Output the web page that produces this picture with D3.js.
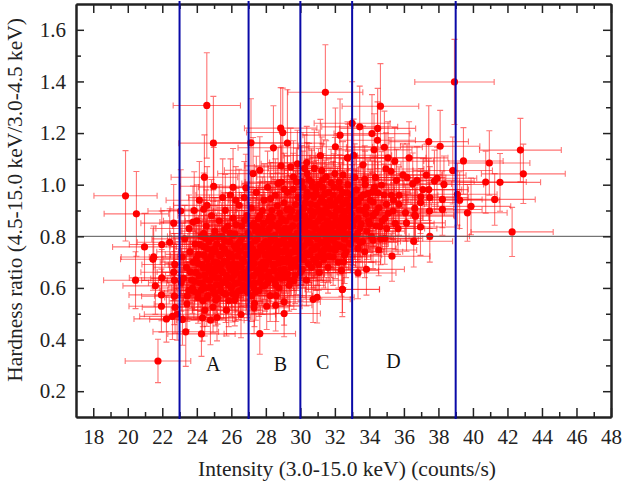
<!DOCTYPE html>
<html>
<head>
<meta charset="utf-8">
<script src="https://cdn.jsdelivr.net/npm/d3@7"></script>
<style>
body { margin: 0; background: #fff; }
svg { display: block; font-family: "Liberation Serif", serif; }
.tick text { font-family: "Liberation Serif", serif; font-size: 21px; fill: #222; }
.tick line, .domain { stroke: #222; }
.eb { stroke: #ff1010; stroke-opacity: 0.58; stroke-width: 1.1; fill: none; }
.pt { fill: #ff0000; }
</style>
</head>
<body>
<svg width="622" height="487"></svg>
<script>
// every row: intensity, hardness, intensity error, hardness error
var topPoints = [
[24.58,1.307,1.95,.204],[19.87,.957,1.83,.175],[20.5,.887,1.87,.164],[24.96,1.161,2.0,.181],[24.44,1.029,1.93,.164],
[24.98,.994,1.95,.15],[27.14,1.162,2.05,.171],[28.44,1.143,2.05,.163],[28.86,1.219,2.1,.157],[28.98,1.202,2.1,.172],
[29.25,1.161,2.1,.207],[31.45,1.358,2.17,.184],[32.3,1.192,2.15,.14],[32.03,1.147,2.15,.15],[31.16,1.113,2.15,.14],
[32.73,1.104,2.2,.14],[28.88,1.073,2.1,.14],[29.44,1.069,2.1,.15],[29.83,1.081,2.1,.13],[30.37,1.086,2.15,.14],
[30.25,1.063,2.1,.13],[30.81,1.063,2.15,.15],[31.24,1.055,2.15,.13],[27.26,1.043,2.05,.14],[27.65,1.056,2.05,.13],
[26.84,.988,2.0,.13],[28.71,1.005,2.1,.14],[25.95,.96,2.0,.14],[26.26,.94,2.0,.13],[24.4,.905,1.95,.14],
[23.07,.898,1.9,.16],[32,1.043,2.15,.14],[32.47,1.037,2.15,.13],[29.77,1.011,2.1,.13],[30.39,1.043,2.15,.12],[30.64,1.011,2.15,.13]
];
var rightPoints = [
[38.93,1.398,2.3,.165],[34.64,1.304,2.22,.165],[33,1.238,2.2,.161],[33.44,1.224,2.2,.158],[34.15,1.198,2.2,.151],
[34.48,1.218,2.2,.155],[34.47,1.172,2.2,.149],[34.87,1.145,2.2,.14],[34.27,1.135,2.2,.14],[37.44,1.167,2.3,.139],
[38.1,1.149,2.3,.139],[42.75,1.134,2.37,.123],[42.92,1.042,2.43,.115],[39.45,1.092,2.3,.129],[40.95,1.084,2.35,.125],
[40.74,1.01,2.35,.12],[41.57,1.009,2.35,.112],[41.26,.943,2.35,.1],[39.89,.916,2.3,.11],[39.68,.891,2.3,.11],
[38.83,1.055,2.3,.13],[39.1,.963,2.3,.12],[39.23,.94,2.3,.11],[38.32,1.001,2.3,.11],[37.92,1.025,2.3,.12],
[37.77,1.014,2.3,.12],[38.23,.943,2.3,.11],[38.23,.904,2.3,.1],[37.48,.898,2.3,.11],[37.5,.95,2.25,.12],
[36.98,.953,2.25,.11],[36.96,.931,2.25,.12],[37.44,.981,2.3,.12],[37.1,.981,2.25,.12],[37.3,1.037,2.3,.12],
[36.76,1.017,2.25,.13],[36.51,1.003,2.25,.12],[36.3,1.104,2.25,.14],[35.47,1.091,2.25,.13],[35.08,1.104,2.2,.14],
[34.96,1.061,2.2,.14],[35.25,1.052,2.2,.13],[35.95,1.038,2.25,.12],[36.18,1.028,2.25,.13],[35.57,1.017,2.2,.12],
[33.63,1.077,2.2,.15],[33.09,1.114,2.2,.14],[32.75,1.104,2.15,.13],[33.15,1.028,2.2,.13],[33.73,1.021,2.2,.13],
[34.35,1.028,2.2,.12],[34.7,.998,2.2,.13],[34.5,.968,2.2,.12],[33.92,.966,2.2,.13],[35.28,.959,2.2,.12],
[35.72,.959,2.25,.11],[35.72,.924,2.25,.12],[34.99,.924,2.2,.12],[34.21,.933,2.2,.11],[33.34,.933,2.2,.12],
[36.63,.908,2.25,.11],[36.63,.882,2.25,.1],[36.09,.891,2.25,.11],[35.37,.898,2.2,.11],[34.9,.87,2.2,.11],[33.8,.885,2.2,.12],
[42.27,.817,2.38,.095],[37.5,.8,2.3,.1],[36.57,.781,2.25,.1],[35.31,.723,2.2,.097],[34.54,.747,2.2,.1],
[33.83,.672,2.2,.1],[33.34,.658,2.2,.1],[32.43,.594,2.15,.105],[32.38,.668,2.15,.1],[32.5,.701,2.15,.1],
[32.56,.727,2.15,.11],[33.73,.74,2.2,.1],[33.34,.753,2.2,.11],[33.44,.776,2.2,.1],[34.21,.785,2.2,.11],
[34.89,.792,2.2,.1],[36.96,.836,2.25,.11],[36.15,.852,2.25,.11],[35.66,.83,2.25,.1],[36.67,.878,2.25,.11]
];
var lowPoints = [
[21.75,.317,1.9,.084],[27.65,.423,2.07,.08],[23.36,.43,1.9,.134],[24.27,.422,1.95,.087],[22.24,.48,1.88,.09],
[23.17,.478,1.9,.1],[24.79,.475,1.95,.095],[24.33,.484,1.95,.09],[25.17,.485,1.95,.09],[26.56,.497,2.0,.09],
[29.06,.501,2.1,.09],[22.59,.49,1.9,.09],[22.86,.498,1.9,.1],[21.95,.529,1.88,.1],[22.74,.525,1.9,.1],
[21.95,.573,1.88,.1],[22.7,.568,1.9,.11],[21.6,.608,1.88,.11],[20.45,.63,1.85,.11],[21.97,.639,1.88,.11],
[22.7,.63,1.9,.11],[23.23,.637,1.9,.1],[23.53,.591,1.92,.11],[23.43,.538,1.9,.1],[24.46,.514,1.95,.1],
[28.05,.529,2.05,.09],[28.57,.533,2.1,.1],[27.32,.523,2.05,.1],[27.34,.54,2.05,.09],[30.74,.556,2.15,.09],
[30.97,.564,2.15,.1],[32.44,.595,2.15,.09],[28.6,.57,2.1,.1],[29.06,.546,2.1,.09],[21.46,.711,1.88,.12],
[21.5,.72,1.88,.12],[20.97,.759,1.85,.13],[21.97,.768,1.88,.13],[22.43,.777,1.88,.13],[22.66,.851,1.9,.15],
[23.78,.855,1.92,.14],[24.4,.811,1.95,.13],[22.72,.691,1.9,.12],[22.66,.661,1.9,.11],[24.07,.563,1.93,.1],
[24.94,.526,1.95,.1],[25.72,.514,1.98,.1],[25.1,.553,1.95,.1],[26.2,.553,2.0,.1]
];
var coreA = [
[23.1,.62,1.9,.11],[23.15,.72,1.9,.13],[23.3,.79,1.9,.13],[23.4,.68,1.9,.12],[23.45,.57,1.9,.1],[23.6,.74,1.92,.12],[23.55,.83,1.92,.13],
[23.7,.63,1.92,.11],[23.75,.6,1.92,.1],[23.8,.7,1.92,.12],[23.9,.77,1.93,.13],[23.95,.66,1.93,.11],[24.0,.86,1.93,.14],[24.05,.58,1.93,.1],
[24.1,.73,1.93,.12],[24.2,.62,1.95,.11],[24.25,.8,1.95,.13],[24.3,.69,1.95,.12],[24.35,.55,1.95,.1],[24.4,.76,1.95,.12],[24.45,.65,1.95,.11],
[24.5,.6,1.95,.1],[24.55,.84,1.95,.14],[24.6,.71,1.95,.12],[24.65,.57,1.95,.1],[24.7,.78,1.95,.13],[24.75,.63,1.95,.11],[24.8,.67,1.95,.12],
[24.85,.88,1.95,.14],[24.9,.74,1.95,.12],[24.95,.59,1.95,.1],[25.0,.7,1.97,.12],[25.05,.82,1.97,.13],[25.1,.64,1.97,.11],[25.15,.77,1.97,.12],
[25.2,.56,1.97,.1],[25.25,.68,1.97,.12],[25.3,.86,1.97,.14],[25.35,.61,1.97,.11],[25.4,.73,1.97,.12],[25.45,.8,1.97,.13],[25.5,.66,1.97,.11],
[25.55,.58,1.97,.1],[25.6,.75,1.98,.12],[25.65,.9,1.98,.14],[25.7,.63,1.98,.11],[25.75,.7,1.98,.12],[25.8,.84,1.98,.13],[25.85,.55,1.98,.1],
[25.9,.78,1.98,.12],[25.95,.67,1.98,.11],[26.0,.6,2.0,.11],[26.05,.72,2.0,.12],[26.1,.87,2.0,.13],[26.15,.65,2.0,.11],[26.2,.81,2.0,.13],
[26.25,.57,2.0,.1],[26.3,.75,2.0,.12],[26.35,.69,2.0,.12],[26.4,.62,2.0,.11],[26.45,.92,2.0,.14],[26.5,.78,2.0,.12],[26.55,.59,2.0,.1],
[26.6,.84,2.0,.13],[26.65,.71,2.0,.12],[26.7,.66,2.0,.11],[26.75,.95,2.02,.14],[26.8,.76,2.02,.12],[26.85,.6,2.02,.1],[26.9,.88,2.02,.13],
[26.95,.73,2.02,.12],[23.85,.9,1.93,.15],[24.15,.94,1.93,.15],[24.6,.92,1.95,.15],[25.5,.95,1.97,.15],[26.1,.99,2.0,.15]
];
var coreB = [
[27.0,.64,2.03,.11],[27.05,.8,2.03,.13],[27.1,.69,2.03,.12],[27.15,.91,2.03,.14],[27.2,.57,2.03,.1],[27.25,.75,2.03,.12],[27.3,.85,2.05,.13],
[27.35,.62,2.05,.11],[27.4,.72,2.05,.12],[27.45,.97,2.05,.14],[27.5,.79,2.05,.12],[27.55,.67,2.05,.11],[27.6,.59,2.05,.1],[27.65,.88,2.05,.13],
[27.7,.76,2.05,.12],[27.75,.64,2.05,.11],[27.8,.83,2.05,.13],[27.85,.7,2.05,.12],[27.9,.94,2.05,.14],[27.95,.61,2.05,.1],[28.0,.78,2.05,.12],
[28.05,.73,2.05,.12],[28.1,.99,2.07,.14],[28.15,.86,2.07,.13],[28.2,.66,2.07,.11],[28.25,.57,2.07,.1],[28.3,.8,2.07,.12],[28.35,.9,2.07,.13],
[28.4,.69,2.07,.12],[28.45,.75,2.07,.12],[28.5,.63,2.07,.11],[28.55,.96,2.07,.14],[28.6,.84,2.1,.13],[28.65,.72,2.1,.12],[28.7,.78,2.1,.12],
[28.75,.6,2.1,.1],[28.8,.89,2.1,.13],[28.85,.67,2.1,.11],[28.9,1.01,2.1,.14],[28.95,.81,2.1,.12],[29.0,.74,2.1,.12],[29.05,.93,2.1,.13],
[29.1,.64,2.1,.11],[29.15,.86,2.1,.13],[29.2,.7,2.1,.12],[29.25,.97,2.1,.14],[29.3,.77,2.1,.12],[29.35,.61,2.1,.1],[29.4,.83,2.1,.12],
[29.45,.68,2.1,.11],[29.5,.9,2.1,.13],[29.55,.74,2.1,.12],[29.6,1.03,2.12,.14],[29.65,.8,2.12,.12],[29.7,.65,2.12,.11],[29.75,.87,2.12,.13],
[29.8,.71,2.12,.12],[29.85,.95,2.12,.13],[29.9,.77,2.12,.12],[29.95,.84,2.12,.12],[27.2,.68,2.03,.12],[27.6,.74,2.05,.12],[28.0,.69,2.05,.12],
[28.3,.74,2.07,.12],[28.5,.69,2.07,.11],[28.9,.7,2.1,.12],[29.3,.72,2.1,.11],[29.6,.7,2.12,.11],[27.4,.82,2.05,.13],[27.8,.9,2.05,.13],[28.2,.83,2.07,.12],
[28.8,.77,2.1,.12],[29.2,.8,2.1,.12],[29.7,.76,2.12,.12],[28.1,.62,2.07,.1],[28.7,.65,2.1,.11],[29.4,.63,2.1,.1],[27.9,.81,2.05,.12],[27.3,.6,2.05,.1]
];
var coreC = [
[30.0,.66,2.13,.11],[30.05,.88,2.13,.13],[30.1,.76,2.13,.12],[30.15,.99,2.13,.14],[30.2,.71,2.13,.11],[30.25,.82,2.13,.12],[30.3,.93,2.13,.13],
[30.35,.63,2.13,.1],[30.4,.78,2.15,.12],[30.45,.86,2.15,.13],[30.5,1.02,2.15,.14],[30.55,.73,2.15,.11],[30.6,.9,2.15,.13],[30.65,.68,2.15,.11],
[30.7,.81,2.15,.12],[30.75,.96,2.15,.13],[30.8,.75,2.15,.11],[30.85,.85,2.15,.12],[30.9,.7,2.15,.11],[30.95,.92,2.15,.13],[31.0,.79,2.15,.12],
[31.05,1.0,2.15,.14],[31.1,.66,2.15,.1],[31.15,.87,2.15,.12],[31.2,.74,2.15,.11],[31.25,.95,2.15,.13],[31.3,.83,2.17,.12],[31.35,.71,2.17,.11],
[31.4,.9,2.17,.12],[31.45,.78,2.17,.11],[31.5,1.03,2.17,.14],[31.55,.86,2.17,.12],[31.6,.68,2.17,.1],[31.65,.97,2.17,.13],[31.7,.8,2.17,.12],
[31.75,.75,2.17,.11],[31.8,.92,2.17,.12],[31.85,.84,2.17,.12],[31.9,.72,2.17,.11],[31.95,.99,2.17,.13],[32.0,.88,2.18,.12],[32.05,.77,2.18,.11],
[32.1,.81,2.18,.12],[32.15,.94,2.18,.13],[32.2,.7,2.18,.1],[32.25,1.01,2.18,.13],[32.3,.86,2.18,.12],[32.35,.76,2.18,.11],[32.4,.9,2.18,.12],
[32.45,.97,2.18,.13],[32.5,.83,2.18,.12],[32.55,.79,2.18,.11],[32.6,.93,2.18,.12],[32.65,.74,2.18,.1],[32.7,.87,2.2,.12],[32.75,1.0,2.2,.13],
[32.8,.81,2.2,.11],[32.85,.91,2.2,.12],[32.9,.77,2.2,.11],[32.95,.96,2.2,.13],[30.3,.84,2.13,.12],[30.6,.8,2.15,.12],[30.9,.83,2.15,.12],[31.2,.82,2.15,.12],
[31.5,.81,2.17,.11],[31.8,.79,2.17,.11],[30.2,.91,2.13,.13],[30.7,.88,2.15,.12],[31.1,.9,2.15,.12],[31.6,.89,2.17,.12],[32.1,.9,2.18,.12],[32.4,.85,2.18,.12],
[30.5,.73,2.15,.11],[31.0,.72,2.15,.11],[31.4,.75,2.17,.11],[30.4,.97,2.15,.13],[30.9,.98,2.15,.13],[31.3,.99,2.17,.13],[31.9,.96,2.17,.13],[32.7,.94,2.2,.12]
];
var coreD = [
[33.05,.84,2.2,.12],[33.1,.92,2.2,.12],[33.2,.79,2.2,.11],[33.25,.98,2.2,.13],[33.35,.87,2.2,.12],[33.45,.83,2.2,.11],[33.5,.95,2.2,.12],[33.6,.78,2.2,.1],
[33.65,.9,2.2,.12],[33.75,1.0,2.2,.13],[33.85,.82,2.2,.11],[33.95,.86,2.2,.11],[34.05,.94,2.2,.12],[34.1,.8,2.2,.1],[34.2,.88,2.2,.12],[34.3,.99,2.2,.12],
[34.4,.84,2.2,.11],[34.55,.91,2.2,.11],[34.65,.79,2.2,.1],[34.75,.86,2.2,.11],[34.85,.96,2.2,.12],[35.0,.83,2.2,.1],[35.1,.89,2.2,.11],[35.4,.94,2.25,.11],[35.5,.85,2.25,.1]
];
// the solid middle of the cloud, where single dots cannot be told apart
var fillLow = [
[23.62,.662,1.92,.12],[23.83,.587,1.92,.11],[23.97,.713,1.93,.13],[24.12,.647,1.93,.12],[24.18,.768,1.95,.13],[24.27,.593,1.95,.11],[24.38,.678,1.95,.12],
[24.42,.727,1.95,.13],[24.53,.634,1.95,.11],[24.58,.561,1.95,.11],[24.62,.752,1.95,.13],[24.68,.686,1.95,.12],[24.77,.603,1.95,.11],[24.82,.722,1.95,.13],
[24.88,.648,1.95,.12],[24.93,.795,1.95,.14],[24.98,.674,1.97,.12],[25.03,.577,1.97,.11],[25.08,.741,1.97,.13],[25.13,.612,1.97,.11],[25.18,.698,1.97,.12],
[25.22,.796,1.97,.14],[25.28,.638,1.97,.11],[25.33,.725,1.97,.13],[25.38,.589,1.97,.11],[25.42,.667,1.97,.12],[25.47,.758,1.97,.13],[25.53,.621,1.97,.11],
[25.58,.703,1.97,.12],[25.62,.826,1.98,.14],[25.67,.576,1.98,.11],[25.72,.648,1.98,.12],[25.78,.735,1.98,.13],[25.83,.612,1.98,.11],[25.87,.684,1.98,.12],
[25.92,.812,1.98,.14],[25.97,.732,1.98,.13],[26.02,.637,2.0,.11],[26.07,.578,2.0,.11],[26.12,.694,2.0,.12],[26.17,.763,2.0,.13],[26.22,.617,2.0,.11],
[26.27,.845,2.0,.14],[26.32,.658,2.0,.12],[26.37,.724,2.0,.13],[26.42,.588,2.0,.11],[26.47,.683,2.0,.12],[26.52,.744,2.0,.13],[26.57,.638,2.0,.11],
[26.62,.795,2.0,.13],[26.67,.611,2.0,.11],[26.72,.703,2.02,.12],[26.77,.862,2.02,.14],[26.82,.654,2.02,.12],[26.87,.731,2.02,.12],[26.92,.584,2.02,.11],
[26.97,.812,2.02,.13],[27.02,.676,2.03,.12],[27.07,.617,2.03,.11],[27.12,.768,2.03,.13],[27.17,.712,2.03,.12],[27.22,.842,2.03,.13],[27.27,.647,2.03,.11],
[27.32,.695,2.05,.12],[27.37,.783,2.05,.13],[27.42,.585,2.05,.11],[27.47,.657,2.05,.12],[27.52,.727,2.05,.12],[27.57,.868,2.05,.13],[27.62,.812,2.05,.13],
[27.67,.624,2.05,.11],[27.72,.692,2.05,.12],[27.77,.748,2.05,.12],[27.82,.607,2.05,.11],[27.87,.851,2.05,.13],[27.92,.674,2.05,.12],[27.97,.727,2.05,.12],
[24.08,.695,1.93,.12],[24.33,.612,1.95,.11],[24.72,.665,1.95,.12],[25.12,.668,1.97,.12],[25.43,.692,1.97,.12],[25.88,.723,1.98,.12],[26.18,.671,2.0,.12],
[26.58,.683,2.0,.12],[26.88,.635,2.02,.11],[27.28,.727,2.05,.12],[27.68,.657,2.05,.11],[23.88,.625,1.93,.11],[24.48,.794,1.95,.13],[25.02,.752,1.97,.13],
[25.62,.782,1.98,.13],[26.08,.803,2.0,.13],[26.42,.772,2.0,.13],[26.98,.762,2.02,.12],[27.48,.838,2.05,.13],[27.88,.772,2.05,.12]
];
var fillHigh = [
[28.02,.644,2.05,.11],[28.07,.812,2.07,.13],[28.12,.757,2.07,.12],[28.17,.708,2.07,.12],[28.22,.875,2.07,.13],[28.27,.637,2.07,.11],[28.32,.783,2.07,.12],
[28.37,.846,2.07,.13],[28.42,.721,2.07,.12],[28.47,.668,2.07,.11],[28.52,.804,2.07,.12],[28.57,.612,2.07,.11],[28.62,.762,2.1,.12],[28.67,.918,2.1,.13],
[28.72,.696,2.1,.12],[28.77,.826,2.1,.12],[28.82,.741,2.1,.12],[28.87,.638,2.1,.11],[28.92,.868,2.1,.13],[28.97,.712,2.1,.12],[29.02,.787,2.1,.12],
[29.07,.672,2.1,.11],[29.12,.831,2.1,.12],[29.17,.752,2.1,.12],[29.22,.904,2.1,.13],[29.27,.655,2.1,.11],[29.32,.813,2.1,.12],[29.37,.734,2.1,.12],
[29.42,.876,2.1,.13],[29.47,.793,2.1,.12],[29.52,.707,2.1,.11],[29.57,.841,2.12,.12],[29.62,.627,2.12,.11],[29.67,.765,2.12,.12],[29.72,.923,2.12,.13],
[29.77,.684,2.12,.11],[29.82,.812,2.12,.12],[29.87,.738,2.12,.12],[29.92,.889,2.12,.13],[29.97,.792,2.12,.12],[30.02,.721,2.13,.11],[30.07,.839,2.13,.12],
[30.12,.672,2.13,.11],[30.17,.906,2.13,.13],[30.22,.763,2.13,.12],[30.27,.878,2.13,.12],[30.32,.735,2.13,.11],[30.37,.953,2.15,.13],[30.42,.812,2.15,.12],
[30.47,.694,2.15,.11],[30.52,.857,2.15,.12],[30.57,.774,2.15,.12],[30.62,.925,2.15,.13],[30.67,.748,2.15,.11],[30.72,.839,2.15,.12],[30.77,.711,2.15,.11],
[30.82,.893,2.15,.12],[30.87,.798,2.15,.12],[30.92,.964,2.15,.13],[30.97,.762,2.15,.11],[31.02,.858,2.15,.12],[31.07,.691,2.15,.1],[31.12,.812,2.15,.12],
[31.17,.934,2.15,.13],[31.22,.776,2.15,.11],[31.27,.875,2.17,.12],[31.32,.731,2.17,.11],[31.37,.842,2.17,.12],[31.42,.965,2.17,.13],[31.47,.803,2.17,.11],
[31.52,.912,2.17,.12],[31.57,.765,2.17,.11],[31.62,.854,2.17,.12],[31.67,.722,2.17,.1],[31.72,.938,2.17,.13],[31.77,.826,2.17,.12],[31.82,.881,2.17,.12],
[31.87,.785,2.17,.11],[31.92,.847,2.17,.12],[31.97,.924,2.17,.12],[32.02,.746,2.18,.11],[32.07,.862,2.18,.12],[32.12,.797,2.18,.11],[32.17,.907,2.18,.12],
[32.22,.835,2.18,.12],[32.27,.764,2.18,.11],[32.32,.951,2.18,.13],[32.37,.812,2.18,.11],[32.42,.874,2.18,.12],[32.47,.926,2.18,.12],[32.52,.757,2.18,.1],
[32.57,.849,2.18,.12],[32.62,.896,2.18,.12],[32.67,.806,2.2,.11],[32.72,.968,2.2,.13],[32.77,.864,2.2,.12],[32.82,.773,2.2,.1],[32.87,.838,2.2,.11],
[32.92,.917,2.2,.12],[32.97,.886,2.2,.12],[33.07,.797,2.2,.11],[33.17,.864,2.2,.12],[33.22,.941,2.2,.12],[33.32,.812,2.2,.11],[33.42,.902,2.2,.12],
[33.52,.848,2.2,.11],[33.67,.961,2.2,.12],[33.82,.913,2.2,.12],[34.02,.847,2.2,.11],[34.17,.972,2.2,.12],[34.37,.892,2.2,.11],[34.62,.838,2.2,.1],
[28.18,.774,2.07,.12],[28.58,.742,2.07,.12],[28.98,.657,2.1,.11],[29.18,.768,2.1,.12],[29.58,.779,2.12,.12],[29.98,.752,2.12,.12],[30.28,.802,2.13,.12],
[30.58,.843,2.15,.12],[30.88,.757,2.15,.11],[31.18,.887,2.15,.12],[31.58,.832,2.17,.12],[31.98,.812,2.17,.11],[28.38,.873,2.07,.13],[28.78,.851,2.1,.12],
[29.38,.905,2.1,.13],[29.88,.951,2.12,.13],[30.18,.853,2.13,.12],[30.78,.952,2.15,.13],[31.38,.932,2.17,.12],[28.28,.946,2.07,.14],[29.08,.982,2.1,.14],
[29.58,.982,2.12,.14],[30.08,1.012,2.13,.14],[30.68,.994,2.15,.14],[31.28,1.018,2.17,.14],[31.78,1.007,2.17,.13],[32.28,.986,2.18,.13]
];

var xMajor = [18,20,22,24,26,28,30,32,34,36,38,40,42,44,46,48];
var xMinor = [19,21,23,25,27,29,31,33,35,37,39,41,43,45,47];
var yMajor = [0.2,0.4,0.6,0.8,1.0,1.2,1.4,1.6];
var yMinor = [0.3,0.5,0.7,0.9,1.1,1.3,1.5];
var bandEdges = [23,27,30,33,39];
var bandLabels = ["A","B","C","D"];
var bandLabelX = [24.95,28.85,31.3,35.4];
var bandLabelY = [0.278,0.278,0.285,0.288];
var refHardness = 0.8;

var points = [].concat(topPoints, rightPoints, lowPoints, coreA, coreB, coreC, coreD, fillLow, fillHigh);

var svg = d3.select("svg");
var plotLeft = 76, plotRight = 611, plotTop = 4, plotBottom = 417;

var x = d3.scaleLinear().domain([17,48]).range([plotLeft,plotRight]);
var y = d3.scaleLinear().domain([0.1,1.7]).range([plotBottom,plotTop]);

// error bars go under the dots
var bars = svg.append("g");
points.forEach(function(p) {
  var px = x(p[0]), py = y(p[1]);
  var x0 = x(p[0]-p[2]), x1 = x(p[0]+p[2]), y0 = y(p[1]-p[3]), y1 = y(p[1]+p[3]);
  bars.append("path").attr("class","eb")
    .attr("d", "M"+x0+","+py+"H"+x1+"M"+px+","+y0+"V"+y1
      +"M"+x0+","+(py-3)+"V"+(py+3)+"M"+x1+","+(py-3)+"V"+(py+3)
      +"M"+(px-3)+","+y0+"H"+(px+3)+"M"+(px-3)+","+y1+"H"+(px+3));
});

svg.append("g").selectAll("circle").data(points).enter().append("circle")
  .attr("class","pt")
  .attr("cx", function(d) { return x(d[0]); })
  .attr("cy", function(d) { return y(d[1]); })
  .attr("r", 3.6);

svg.append("line")
  .attr("x1",plotLeft).attr("x2",plotRight)
  .attr("y1",y(refHardness)).attr("y2",y(refHardness))
  .attr("stroke","#555").attr("stroke-width",1);

function styleAxis(g, width) {
  g.selectAll(".domain").attr("stroke-width",2);
  g.selectAll(".tick line").attr("stroke-width",width);
}

// inward ticks, mirrored on all four sides
var fmt = d3.format(".1f");
var bx = svg.append("g").attr("transform","translate(0,"+plotBottom+")")
  .call(d3.axisBottom(x).tickValues(xMajor).tickSize(-9).tickPadding(12).tickSizeOuter(0));
var bxm = svg.append("g").attr("transform","translate(0,"+plotBottom+")")
  .call(d3.axisBottom(x).tickValues(xMinor).tickSize(-5).tickFormat("").tickSizeOuter(0));
var tx = svg.append("g").attr("transform","translate(0,"+plotTop+")")
  .call(d3.axisTop(x).tickValues(xMajor).tickSize(-9).tickFormat("").tickSizeOuter(0));
var txm = svg.append("g").attr("transform","translate(0,"+plotTop+")")
  .call(d3.axisTop(x).tickValues(xMinor).tickSize(-5).tickFormat("").tickSizeOuter(0));
var ly = svg.append("g").attr("transform","translate("+plotLeft+",0)")
  .call(d3.axisLeft(y).tickValues(yMajor).tickSize(-8).tickPadding(10).tickFormat(fmt).tickSizeOuter(0));
var lym = svg.append("g").attr("transform","translate("+plotLeft+",0)")
  .call(d3.axisLeft(y).tickValues(yMinor).tickSize(-5).tickFormat("").tickSizeOuter(0));
var ry = svg.append("g").attr("transform","translate("+plotRight+",0)")
  .call(d3.axisRight(y).tickValues(yMajor).tickSize(-8).tickFormat("").tickSizeOuter(0));
var rym = svg.append("g").attr("transform","translate("+plotRight+",0)")
  .call(d3.axisRight(y).tickValues(yMinor).tickSize(-5).tickFormat("").tickSizeOuter(0));
[bx,tx,ly,ry,bxm,txm,lym,rym].forEach(function(g) { styleAxis(g,1.5); });

svg.append("g").selectAll("line").data(bandEdges).enter().append("line")
  .attr("x1",function(d) { return x(d); }).attr("x2",function(d) { return x(d); })
  .attr("y1",1).attr("y2",419)
  .attr("stroke","#0a0aa8").attr("stroke-width",2);

svg.append("g").selectAll("text").data(bandLabels).enter().append("text")
  .attr("x",function(d,i) { return x(bandLabelX[i]); })
  .attr("y",function(d,i) { return y(bandLabelY[i]); })
  .attr("text-anchor","middle")
  .attr("font-size",20).attr("fill","#111")
  .text(function(d) { return d; });

svg.append("text")
  .attr("x",347).attr("y",476)
  .attr("text-anchor","middle").attr("font-size",21.5).attr("fill","#222")
  .text("Intensity (3.0-15.0 keV) (counts/s)");

svg.append("text")
  .attr("transform","translate(22,200) rotate(-90)")
  .attr("text-anchor","middle").attr("font-size",21.4).attr("fill","#222")
  .text("Hardness ratio (4.5-15.0 keV/3.0-4.5 keV)");
</script>
</body>
</html>
